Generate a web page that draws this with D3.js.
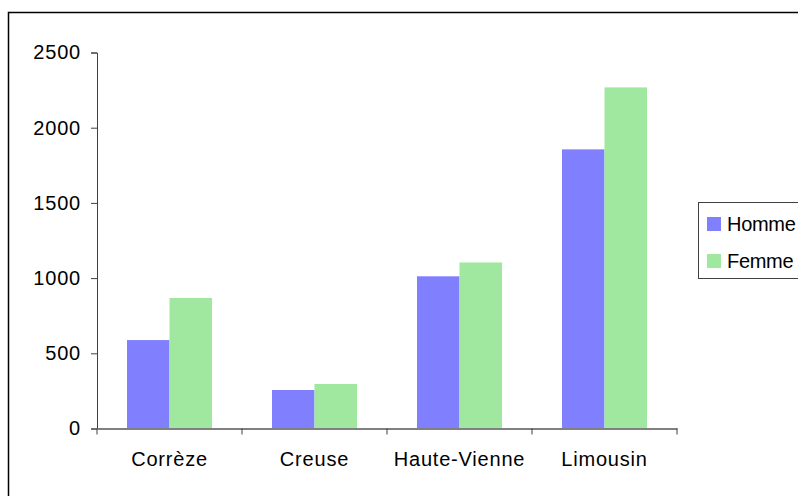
<!DOCTYPE html>
<html>
<head>
<meta charset="utf-8">
<script src="https://cdn.jsdelivr.net/npm/d3@7"></script>
<style>
  body { margin: 0; background: #fff; }
  text { font-family: "Liberation Sans", Arial, sans-serif; }
</style>
</head>
<body>
<div id="chart"></div>
<script>
var categories = ["Corrèze", "Creuse", "Haute-Vienne", "Limousin"]
var seriesNames = ["Homme", "Femme"]
var homme = [588, 256, 1012, 1856]
var femme = [868, 296, 1104, 2268]
var yTicks = [0, 500, 1000, 1500, 2000, 2500]
var colors = ["#8080ff", "#a0e8a0"]

var W = 798, H = 496
var plot = {left: 97, right: 677, top: 52.5, bottom: 428.5}

var svg = d3.select("#chart")
  .append("svg")
    .attr("width", W)
    .attr("height", H)

// outer frame (runs off the right and bottom edge)
svg.append("rect")
  .attr("x", 8.5).attr("y", 12.5)
  .attr("width", 800).attr("height", 500)
  .attr("fill", "none")
  .attr("stroke", "#000")
  .attr("stroke-width", 1.5)

var x = d3.scaleBand()
  .domain(categories)
  .range([plot.left, plot.right])
  .paddingInner(0)
  .paddingOuter(0)

var y = d3.scaleLinear()
  .domain([0, 2500])
  .range([plot.bottom, plot.top])

var barW = 42.5
var xs = d3.scaleBand()
  .domain(seriesNames)
  .range([x.bandwidth() / 2 - barW, x.bandwidth() / 2 + barW])

var rows = categories.map(function(c, i) {
  return {cat: c, values: [homme[i], femme[i]]}
})

var groups = svg.selectAll(".grp")
  .data(rows)
  .enter().append("g")
    .attr("class", "grp")
    .attr("transform", function(d) { return "translate(" + x(d.cat) + ",0)" })

groups.selectAll("rect")
  .data(function(d) { return d.values.map(function(v, j) { return {name: seriesNames[j], v: v, j: j} }) })
  .enter().append("rect")
    .attr("x", function(d) { return xs(d.name) })
    .attr("width", xs.bandwidth())
    .attr("y", function(d) { return y(d.v) })
    .attr("height", function(d) { return y(0) - y(d.v) })
    .attr("fill", function(d) { return colors[d.j] })

// y axis
var yAxis = svg.append("g")
  .attr("transform", "translate(" + plot.left + ",0)")
  .call(d3.axisLeft(y).tickValues(yTicks).tickSize(6).tickPadding(10).tickFormat(d3.format("d")))
yAxis.select(".domain").attr("stroke", "#404040")
yAxis.selectAll(".tick line").attr("stroke", "#404040")
yAxis.selectAll("text").attr("font-size", "20px").attr("fill", "#000")
  .attr("font-family", "Liberation Sans, Arial, sans-serif")
  .attr("letter-spacing", "0.8px")

// x axis
var xAxis = svg.append("g")
  .attr("transform", "translate(0," + plot.bottom + ")")
  .call(d3.axisBottom(x).tickSize(0).tickPadding(23))
xAxis.select(".domain").attr("stroke", "#808080").attr("stroke-width", 2)
xAxis.selectAll("text").attr("font-size", "20px").attr("fill", "#000")
  .attr("font-family", "Liberation Sans, Arial, sans-serif")
  .attr("letter-spacing", "0.8px")

// category separators
svg.selectAll(".sep")
  .data(categories.concat(["end"]))
  .enter().append("line")
    .attr("class", "sep")
    .attr("x1", function(d, i) { return i < categories.length ? x(d) : plot.right })
    .attr("x2", function(d, i) { return i < categories.length ? x(d) : plot.right })
    .attr("y1", plot.bottom)
    .attr("y2", plot.bottom + 6)
    .attr("stroke", "#404040")

// legend
var legend = svg.append("g").attr("transform", "translate(698,202)")
legend.append("rect")
  .attr("x", 0.5).attr("y", 0.5)
  .attr("width", 120).attr("height", 76)
  .attr("fill", "#fff")
  .attr("stroke", "#404040")

var items = legend.selectAll(".item")
  .data(seriesNames)
  .enter().append("g")
    .attr("class", "item")
    .attr("transform", function(d, i) { return "translate(9," + (15 + i * 37) + ")" })
items.append("rect")
  .attr("width", 14).attr("height", 14)
  .attr("fill", function(d, i) { return colors[i] })
items.append("text")
  .attr("x", 20).attr("y", 14)
  .attr("font-size", "20px")
  .attr("letter-spacing", "-0.3px")
  .text(function(d) { return d })
</script>
</body>
</html>
